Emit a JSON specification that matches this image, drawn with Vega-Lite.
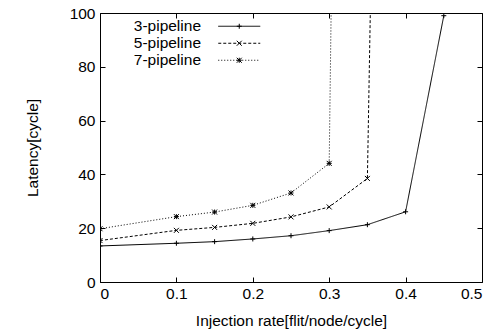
{
  "$schema": "https://vega.github.io/schema/vega-lite/v6.json",
  "width": 382,
  "height": 269,
  "autosize": "none",
  "padding": {"left": 100, "top": 13, "right": 15, "bottom": 51},
  "config": {
    "font": "Liberation Sans",
    "view": {"stroke": "black", "strokeWidth": 1},
    "axis": {
      "domain": false,
      "grid": false,
      "tickColor": "black",
      "tickSize": -5,
      "labelColor": "black",
      "labelFontSize": 15.5,
      "titleColor": "black",
      "titleFontSize": 15.5,
      "titleFontWeight": "normal"
    }
  },
  "data": {
    "values": [
      {"series": "3-pipeline", "rate": 0, "latency": 13.4},
      {"series": "3-pipeline", "rate": 0.1, "latency": 14.4},
      {"series": "3-pipeline", "rate": 0.15, "latency": 15.0},
      {"series": "3-pipeline", "rate": 0.2, "latency": 16.0},
      {"series": "3-pipeline", "rate": 0.25, "latency": 17.2},
      {"series": "3-pipeline", "rate": 0.3, "latency": 19.1},
      {"series": "3-pipeline", "rate": 0.35, "latency": 21.3},
      {"series": "3-pipeline", "rate": 0.4, "latency": 26.1},
      {"series": "3-pipeline", "rate": 0.45, "latency": 99},
      {"series": "5-pipeline", "rate": 0, "latency": 15.4},
      {"series": "5-pipeline", "rate": 0.1, "latency": 19.2},
      {"series": "5-pipeline", "rate": 0.15, "latency": 20.3},
      {"series": "5-pipeline", "rate": 0.2, "latency": 21.8},
      {"series": "5-pipeline", "rate": 0.25, "latency": 24.2},
      {"series": "5-pipeline", "rate": 0.3, "latency": 27.9},
      {"series": "5-pipeline", "rate": 0.35, "latency": 38.5},
      {"series": "5-pipeline", "rate": 0.4, "latency": 850},
      {"series": "7-pipeline", "rate": 0, "latency": 19.8},
      {"series": "7-pipeline", "rate": 0.1, "latency": 24.3},
      {"series": "7-pipeline", "rate": 0.15, "latency": 26.0},
      {"series": "7-pipeline", "rate": 0.2, "latency": 28.5},
      {"series": "7-pipeline", "rate": 0.25, "latency": 33.1},
      {"series": "7-pipeline", "rate": 0.3, "latency": 44.1},
      {"series": "7-pipeline", "rate": 0.35, "latency": 1160}
    ]
  },
  "layer": [
    {
      "mark": {"type": "line", "color": "black", "strokeWidth": 1, "clip": true},
      "encoding": {
        "x": {
          "field": "rate", "type": "quantitative",
          "scale": {"domain": [0, 0.5], "nice": false, "zero": false},
          "axis": {"orient": "bottom", "title": "Injection rate[flit/node/cycle]", "values": [0, 0.1, 0.2, 0.3, 0.4, 0.5], "format": "~g", "labelPadding": 9, "titlePadding": 12}
        },
        "y": {
          "field": "latency", "type": "quantitative",
          "scale": {"domain": [0, 100], "nice": false, "zero": false},
          "axis": {"orient": "left", "title": "Latency[cycle]", "values": [0, 20, 40, 60, 80, 100], "labelPadding": 10, "titlePadding": 29}
        },
        "strokeDash": {
          "field": "series", "type": "nominal",
          "scale": {"range": [[1, 0], [3, 2], [1, 2]]},
          "legend": {
            "orient": "none", "legendX": 131.5, "legendY": 5.5, "title": null, "padding": 0,
            "symbolType": "M-21,0L21,0", "symbolSize": 4, "symbolStrokeColor": "black", "symbolStrokeWidth": 1,
            "labelAlign": "right", "labelOffset": -46, "labelFontSize": 15.5, "labelColor": "black", "rowPadding": -1.1
          }
        }
      }
    },
    {
      "mark": {"type": "point", "filled": false, "color": "black", "strokeWidth": 1, "clip": true, "size": 25, "opacity": 1},
      "encoding": {
        "x": {"field": "rate", "type": "quantitative", "axis": null},
        "y": {"field": "latency", "type": "quantitative", "axis": null},
        "shape": {
          "field": "series", "type": "nominal",
          "scale": {"domain": ["3-pipeline", "5-pipeline", "7-pipeline"], "range": ["M-1,0L1,0M0,-1L0,1", "M-1,-1L1,1M-1,1L1,-1", "M-1,0L1,0M0,-1L0,1M-1,-1L1,1M-1,1L1,-1"]},
          "legend": {
            "orient": "none", "legendX": 131.5, "legendY": 5.5, "title": null, "padding": 0,
            "symbolSize": 25, "symbolStrokeColor": "black", "symbolFillColor": "transparent", "symbolStrokeWidth": 1,
            "labelOpacity": 0, "labelFontSize": 15.5, "rowPadding": -1.1
          }
        }
      }
    },
    {
      "mark": {"type": "point", "opacity": 0},
      "encoding": {
        "x": {"field": "rate", "type": "quantitative", "axis": {"orient": "top", "labels": false, "title": null, "values": [0, 0.1, 0.2, 0.3, 0.4, 0.5]}},
        "y": {"field": "latency", "type": "quantitative", "axis": {"orient": "right", "labels": false, "title": null, "values": [0, 20, 40, 60, 80, 100]}}
      }
    }
  ],
  "resolve": {"axis": {"x": "independent", "y": "independent"}}
}
